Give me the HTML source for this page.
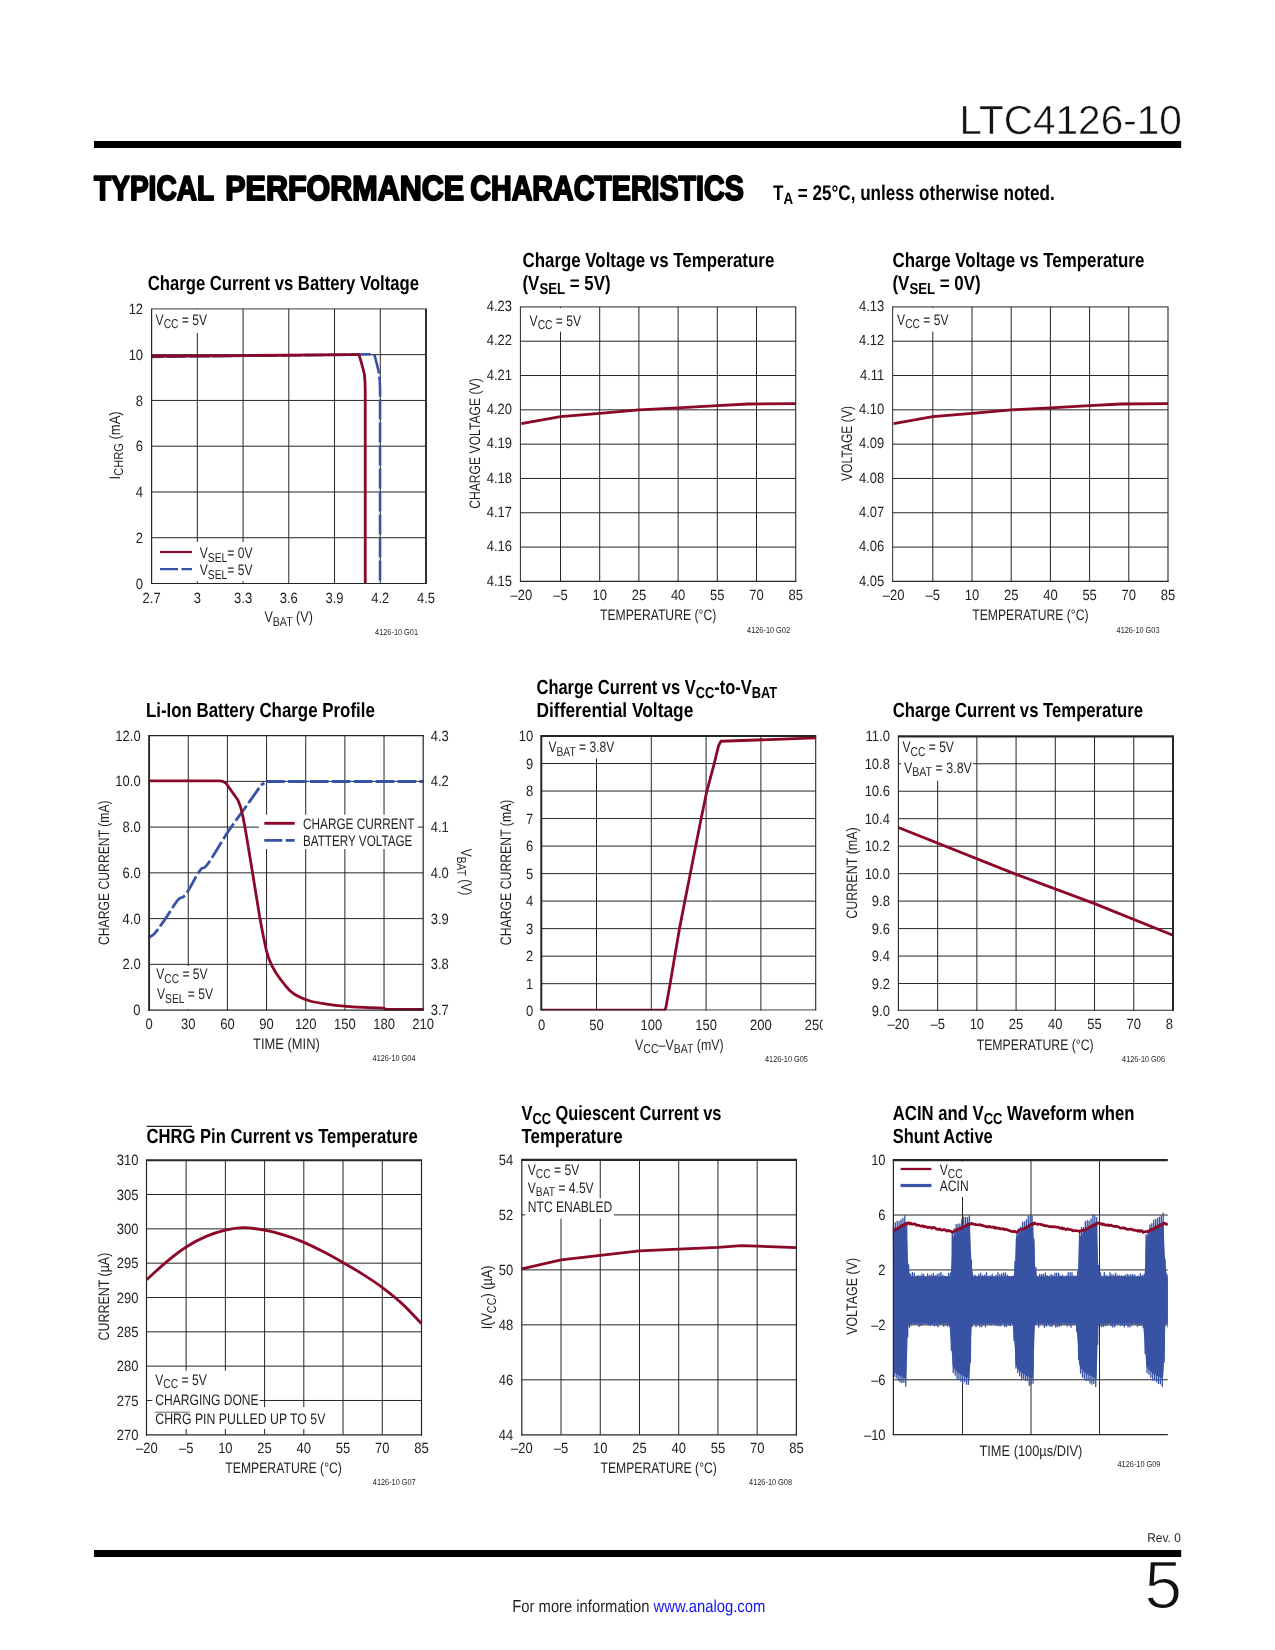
<!DOCTYPE html>
<html lang="en"><head><meta charset="utf-8"><title>LTC4126-10 Typical Performance Characteristics</title>
<style>
html,body{margin:0;padding:0;background:#fff}
body{width:1275px;height:1650px;overflow:hidden}
svg{display:block;font-family:"Liberation Sans",Arial,Helvetica,sans-serif;fill:#231f20;will-change:transform;text-rendering:geometricPrecision}
</style></head><body>
<svg width="1275" height="1650" viewBox="0 0 1275 1650">
<text transform="translate(1181.8,133.5) scale(0.999,1)" font-size="40.6" text-anchor="end" fill="#111" stroke="#fff" stroke-width="0.55">LTC4126-10</text>
<rect x="94" y="141" width="1087.2" height="7" fill="#000"/>
<text transform="translate(94,199.6) scale(0.812,1)" font-size="34.6" font-weight="bold" fill="#000" stroke="#000" stroke-width="2" stroke-linejoin="round">TYPICAL</text>
<text transform="translate(225.2,199.6) scale(0.8822,1)" font-size="34.6" font-weight="bold" fill="#000" stroke="#000" stroke-width="2" stroke-linejoin="round">PERFORMANCE</text>
<text transform="translate(470.3,199.6) scale(0.8277,1)" font-size="34.6" font-weight="bold" fill="#000" stroke="#000" stroke-width="2" stroke-linejoin="round">CHARACTERISTICS</text>
<text transform="translate(773,199.8) scale(0.806,1)" font-size="21.2" font-weight="bold" fill="#000">T<tspan font-size="16.54" dy="4.24">A</tspan><tspan dy="-4.24"> = 25°C, unless otherwise noted.</tspan></text>
<text transform="translate(1180.9,1542.1) scale(0.95,1)" font-size="12.6" text-anchor="end">Rev. 0</text>
<rect x="94" y="1550" width="1087.2" height="7" fill="#000"/>
<text transform="translate(1182.2,1608.2)" font-size="67.6" text-anchor="end" fill="#111" stroke="#fff" stroke-width="1.4">5</text>
<text transform="translate(512.3,1611.7) scale(0.855,1)" font-size="17.3">For more information <tspan fill="#1414ee">www.analog.com</tspan></text>
<line x1="197.33" y1="308.9" x2="197.33" y2="583.5" stroke="#262626" stroke-width="1"/>
<line x1="243.07" y1="308.9" x2="243.07" y2="583.5" stroke="#262626" stroke-width="1"/>
<line x1="288.8" y1="308.9" x2="288.8" y2="583.5" stroke="#262626" stroke-width="1"/>
<line x1="334.53" y1="308.9" x2="334.53" y2="583.5" stroke="#262626" stroke-width="1"/>
<line x1="380.27" y1="308.9" x2="380.27" y2="583.5" stroke="#262626" stroke-width="1"/>
<line x1="151.6" y1="354.67" x2="426" y2="354.67" stroke="#262626" stroke-width="1"/>
<line x1="151.6" y1="400.43" x2="426" y2="400.43" stroke="#262626" stroke-width="1"/>
<line x1="151.6" y1="446.2" x2="426" y2="446.2" stroke="#262626" stroke-width="1"/>
<line x1="151.6" y1="491.97" x2="426" y2="491.97" stroke="#262626" stroke-width="1"/>
<line x1="151.6" y1="537.73" x2="426" y2="537.73" stroke="#262626" stroke-width="1"/>
<rect x="153" y="309.5" width="57" height="23.5" fill="#fff"/>
<rect x="157" y="542" width="100" height="39.3" fill="#fff"/>
<path d="M151.6 356.95 L243.07 355.81 L349.78 354.67 L372.64 354.21 L374.78 355.81 L378.59 371.14 L379.66 379.84 L380.05 388.99 L380.05 583.5" fill="none" stroke="#3953a4" stroke-width="2.6" stroke-linejoin="round" stroke-dasharray="20 3" stroke-dashoffset="8"/>
<path d="M151.6 356.27 L243.07 355.58 L349.78 354.67 L358.92 354.67 L361.67 363.59 L364.41 374.35 L365.02 382.13 L365.24 391.28 L365.24 583.5" fill="none" stroke="#8b0828" stroke-width="2.8" stroke-linejoin="round"/>
<line x1="151" y1="308.9" x2="426.95" y2="308.9" stroke="#262626" stroke-width="0.9"/>
<line x1="151" y1="583.5" x2="426.95" y2="583.5" stroke="#262626" stroke-width="1.2"/>
<line x1="151.6" y1="308.9" x2="151.6" y2="584.1" stroke="#262626" stroke-width="1.2"/>
<line x1="426" y1="308.9" x2="426" y2="584.1" stroke="#262626" stroke-width="1.9"/>
<text transform="translate(151.6,602.8) scale(0.872,1)" font-size="14.9" text-anchor="middle">2.7</text>
<text transform="translate(197.33,602.8) scale(0.872,1)" font-size="14.9" text-anchor="middle">3</text>
<text transform="translate(243.07,602.8) scale(0.872,1)" font-size="14.9" text-anchor="middle">3.3</text>
<text transform="translate(288.8,602.8) scale(0.872,1)" font-size="14.9" text-anchor="middle">3.6</text>
<text transform="translate(334.53,602.8) scale(0.872,1)" font-size="14.9" text-anchor="middle">3.9</text>
<text transform="translate(380.27,602.8) scale(0.872,1)" font-size="14.9" text-anchor="middle">4.2</text>
<text transform="translate(426,602.8) scale(0.872,1)" font-size="14.9" text-anchor="middle">4.5</text>
<text transform="translate(143.1,588.6) scale(0.872,1)" font-size="14.9" text-anchor="end">0</text>
<text transform="translate(143.1,542.83) scale(0.872,1)" font-size="14.9" text-anchor="end">2</text>
<text transform="translate(143.1,497.07) scale(0.872,1)" font-size="14.9" text-anchor="end">4</text>
<text transform="translate(143.1,451.3) scale(0.872,1)" font-size="14.9" text-anchor="end">6</text>
<text transform="translate(143.1,405.53) scale(0.872,1)" font-size="14.9" text-anchor="end">8</text>
<text transform="translate(143.1,359.77) scale(0.872,1)" font-size="14.9" text-anchor="end">10</text>
<text transform="translate(143.1,314) scale(0.872,1)" font-size="14.9" text-anchor="end">12</text>
<text transform="translate(147.7,289.8) scale(0.8181,1)" font-size="20.4" font-weight="bold" fill="#000">Charge Current vs Battery Voltage</text>
<text transform="translate(155.6,324.6) scale(0.795,1)" font-size="15.2">V<tspan font-size="12.92" dy="3.5">CC</tspan><tspan dy="-3.5"> = 5V</tspan></text>
<line x1="160" y1="552" x2="192" y2="552" stroke="#8b0828" stroke-width="2.2"/>
<text transform="translate(199.8,558) scale(0.795,1)" font-size="15.2">V<tspan font-size="12.92" dy="3.5">SEL</tspan><tspan dy="-3.5">= 0V</tspan></text>
<line x1="160" y1="569.2" x2="192" y2="569.2" stroke="#3953a4" stroke-width="2.2" stroke-dasharray="18 3.5"/>
<text transform="translate(199.8,575) scale(0.795,1)" font-size="15.2">V<tspan font-size="12.92" dy="3.5">SEL</tspan><tspan dy="-3.5">= 5V</tspan></text>
<text transform="translate(119.5,445.4) rotate(-90) scale(0.8586,1)" font-size="15.2" text-anchor="middle">I<tspan font-size="12.92" dy="3.5">CHRG</tspan><tspan dy="-3.5"> (mA)</tspan></text>
<text transform="translate(288.6,622) scale(0.8244,1)" font-size="15.2" text-anchor="middle">V<tspan font-size="12.92" dy="3.5">BAT</tspan><tspan dy="-3.5"> (V)</tspan></text>
<text transform="translate(418,634.6) scale(0.855,1)" font-size="8.6" text-anchor="end">4126-10 G01</text>
<line x1="560.5" y1="306.9" x2="560.5" y2="581.4" stroke="#262626" stroke-width="1"/>
<line x1="599.7" y1="306.9" x2="599.7" y2="581.4" stroke="#262626" stroke-width="1"/>
<line x1="638.9" y1="306.9" x2="638.9" y2="581.4" stroke="#262626" stroke-width="1"/>
<line x1="678.1" y1="306.9" x2="678.1" y2="581.4" stroke="#262626" stroke-width="1"/>
<line x1="717.3" y1="306.9" x2="717.3" y2="581.4" stroke="#262626" stroke-width="1"/>
<line x1="756.5" y1="306.9" x2="756.5" y2="581.4" stroke="#262626" stroke-width="1"/>
<line x1="520.4" y1="341.21" x2="795.7" y2="341.21" stroke="#262626" stroke-width="1"/>
<line x1="520.4" y1="375.52" x2="795.7" y2="375.52" stroke="#262626" stroke-width="1"/>
<line x1="520.4" y1="409.84" x2="795.7" y2="409.84" stroke="#262626" stroke-width="1"/>
<line x1="520.4" y1="444.15" x2="795.7" y2="444.15" stroke="#262626" stroke-width="1"/>
<line x1="520.4" y1="478.46" x2="795.7" y2="478.46" stroke="#262626" stroke-width="1"/>
<line x1="520.4" y1="512.77" x2="795.7" y2="512.77" stroke="#262626" stroke-width="1"/>
<line x1="520.4" y1="547.09" x2="795.7" y2="547.09" stroke="#262626" stroke-width="1"/>
<rect x="522.3" y="308.1" width="64" height="23.6" fill="#fff"/>
<path d="M521.3 423.56 L560.5 416.7 L599.7 413.27 L638.9 409.84 L678.1 407.78 L717.3 405.72 L748.66 404 L795.7 403.66" fill="none" stroke="#8b0828" stroke-width="2.8" stroke-linejoin="round"/>
<line x1="519.9" y1="306.9" x2="796.25" y2="306.9" stroke="#262626" stroke-width="1"/>
<line x1="519.9" y1="581.4" x2="796.25" y2="581.4" stroke="#262626" stroke-width="1.1"/>
<line x1="520.4" y1="306.9" x2="520.4" y2="581.95" stroke="#262626" stroke-width="1"/>
<line x1="795.7" y1="306.9" x2="795.7" y2="581.95" stroke="#262626" stroke-width="1.1"/>
<text transform="translate(521.3,599.8) scale(0.872,1)" font-size="14.9" text-anchor="middle">–20</text>
<text transform="translate(560.5,599.8) scale(0.872,1)" font-size="14.9" text-anchor="middle">–5</text>
<text transform="translate(599.7,599.8) scale(0.872,1)" font-size="14.9" text-anchor="middle">10</text>
<text transform="translate(638.9,599.8) scale(0.872,1)" font-size="14.9" text-anchor="middle">25</text>
<text transform="translate(678.1,599.8) scale(0.872,1)" font-size="14.9" text-anchor="middle">40</text>
<text transform="translate(717.3,599.8) scale(0.872,1)" font-size="14.9" text-anchor="middle">55</text>
<text transform="translate(756.5,599.8) scale(0.872,1)" font-size="14.9" text-anchor="middle">70</text>
<text transform="translate(795.7,599.8) scale(0.872,1)" font-size="14.9" text-anchor="middle">85</text>
<text transform="translate(512,585.6) scale(0.872,1)" font-size="14.9" text-anchor="end">4.15</text>
<text transform="translate(512,551.29) scale(0.872,1)" font-size="14.9" text-anchor="end">4.16</text>
<text transform="translate(512,516.98) scale(0.872,1)" font-size="14.9" text-anchor="end">4.17</text>
<text transform="translate(512,482.66) scale(0.872,1)" font-size="14.9" text-anchor="end">4.18</text>
<text transform="translate(512,448.35) scale(0.872,1)" font-size="14.9" text-anchor="end">4.19</text>
<text transform="translate(512,414.04) scale(0.872,1)" font-size="14.9" text-anchor="end">4.20</text>
<text transform="translate(512,379.72) scale(0.872,1)" font-size="14.9" text-anchor="end">4.21</text>
<text transform="translate(512,345.41) scale(0.872,1)" font-size="14.9" text-anchor="end">4.22</text>
<text transform="translate(512,311.1) scale(0.872,1)" font-size="14.9" text-anchor="end">4.23</text>
<text transform="translate(522.5,266.5) scale(0.828,1)" font-size="20.4" font-weight="bold" fill="#000">Charge Voltage vs Temperature</text>
<text transform="translate(522.5,290) scale(0.828,1)" font-size="20.4" font-weight="bold" fill="#000">(V<tspan font-size="15.91" dy="4.08">SEL</tspan><tspan dy="-4.08"> = 5V)</tspan></text>
<text transform="translate(529.6,325.8) scale(0.795,1)" font-size="15.2">V<tspan font-size="12.92" dy="3.5">CC</tspan><tspan dy="-3.5"> = 5V</tspan></text>
<text transform="translate(479.5,443.55) rotate(-90) scale(0.7998,1)" font-size="15.2" text-anchor="middle">CHARGE VOLTAGE (V)</text>
<text transform="translate(658.1,620) scale(0.8022,1)" font-size="15.2" text-anchor="middle">TEMPERATURE (°C)</text>
<text transform="translate(790,633) scale(0.855,1)" font-size="8.6" text-anchor="end">4126-10 G02</text>
<line x1="932.8" y1="306.9" x2="932.8" y2="581.4" stroke="#262626" stroke-width="1"/>
<line x1="972" y1="306.9" x2="972" y2="581.4" stroke="#262626" stroke-width="1"/>
<line x1="1011.2" y1="306.9" x2="1011.2" y2="581.4" stroke="#262626" stroke-width="1"/>
<line x1="1050.4" y1="306.9" x2="1050.4" y2="581.4" stroke="#262626" stroke-width="1"/>
<line x1="1089.6" y1="306.9" x2="1089.6" y2="581.4" stroke="#262626" stroke-width="1"/>
<line x1="1128.8" y1="306.9" x2="1128.8" y2="581.4" stroke="#262626" stroke-width="1"/>
<line x1="892.7" y1="341.21" x2="1168" y2="341.21" stroke="#262626" stroke-width="1"/>
<line x1="892.7" y1="375.52" x2="1168" y2="375.52" stroke="#262626" stroke-width="1"/>
<line x1="892.7" y1="409.84" x2="1168" y2="409.84" stroke="#262626" stroke-width="1"/>
<line x1="892.7" y1="444.15" x2="1168" y2="444.15" stroke="#262626" stroke-width="1"/>
<line x1="892.7" y1="478.46" x2="1168" y2="478.46" stroke="#262626" stroke-width="1"/>
<line x1="892.7" y1="512.77" x2="1168" y2="512.77" stroke="#262626" stroke-width="1"/>
<line x1="892.7" y1="547.09" x2="1168" y2="547.09" stroke="#262626" stroke-width="1"/>
<rect x="894.6" y="308.1" width="64" height="23.6" fill="#fff"/>
<path d="M893.6 423.56 L932.8 416.7 L972 413.27 L1011.2 409.84 L1050.4 407.78 L1089.6 405.72 L1120.96 404 L1168 403.66" fill="none" stroke="#8b0828" stroke-width="2.8" stroke-linejoin="round"/>
<line x1="892.2" y1="306.9" x2="1168.55" y2="306.9" stroke="#262626" stroke-width="1"/>
<line x1="892.2" y1="581.4" x2="1168.55" y2="581.4" stroke="#262626" stroke-width="1.1"/>
<line x1="892.7" y1="306.9" x2="892.7" y2="581.95" stroke="#262626" stroke-width="1"/>
<line x1="1168" y1="306.9" x2="1168" y2="581.95" stroke="#262626" stroke-width="1.1"/>
<text transform="translate(893.6,599.8) scale(0.872,1)" font-size="14.9" text-anchor="middle">–20</text>
<text transform="translate(932.8,599.8) scale(0.872,1)" font-size="14.9" text-anchor="middle">–5</text>
<text transform="translate(972,599.8) scale(0.872,1)" font-size="14.9" text-anchor="middle">10</text>
<text transform="translate(1011.2,599.8) scale(0.872,1)" font-size="14.9" text-anchor="middle">25</text>
<text transform="translate(1050.4,599.8) scale(0.872,1)" font-size="14.9" text-anchor="middle">40</text>
<text transform="translate(1089.6,599.8) scale(0.872,1)" font-size="14.9" text-anchor="middle">55</text>
<text transform="translate(1128.8,599.8) scale(0.872,1)" font-size="14.9" text-anchor="middle">70</text>
<text transform="translate(1168,599.8) scale(0.872,1)" font-size="14.9" text-anchor="middle">85</text>
<text transform="translate(884.3,585.6) scale(0.872,1)" font-size="14.9" text-anchor="end">4.05</text>
<text transform="translate(884.3,551.29) scale(0.872,1)" font-size="14.9" text-anchor="end">4.06</text>
<text transform="translate(884.3,516.98) scale(0.872,1)" font-size="14.9" text-anchor="end">4.07</text>
<text transform="translate(884.3,482.66) scale(0.872,1)" font-size="14.9" text-anchor="end">4.08</text>
<text transform="translate(884.3,448.35) scale(0.872,1)" font-size="14.9" text-anchor="end">4.09</text>
<text transform="translate(884.3,414.04) scale(0.872,1)" font-size="14.9" text-anchor="end">4.10</text>
<text transform="translate(884.3,379.72) scale(0.872,1)" font-size="14.9" text-anchor="end">4.11</text>
<text transform="translate(884.3,345.41) scale(0.872,1)" font-size="14.9" text-anchor="end">4.12</text>
<text transform="translate(884.3,311.1) scale(0.872,1)" font-size="14.9" text-anchor="end">4.13</text>
<text transform="translate(892.5,266.5) scale(0.828,1)" font-size="20.4" font-weight="bold" fill="#000">Charge Voltage vs Temperature</text>
<text transform="translate(892.5,290) scale(0.828,1)" font-size="20.4" font-weight="bold" fill="#000">(V<tspan font-size="15.91" dy="4.08">SEL</tspan><tspan dy="-4.08"> = 0V)</tspan></text>
<text transform="translate(897.1,324.6) scale(0.795,1)" font-size="15.2">V<tspan font-size="12.92" dy="3.5">CC</tspan><tspan dy="-3.5"> = 5V</tspan></text>
<text transform="translate(852,443.55) rotate(-90) scale(0.7998,1)" font-size="15.2" text-anchor="middle">VOLTAGE (V)</text>
<text transform="translate(1030.4,620) scale(0.8022,1)" font-size="15.2" text-anchor="middle">TEMPERATURE (°C)</text>
<text transform="translate(1159.5,633) scale(0.855,1)" font-size="8.6" text-anchor="end">4126-10 G03</text>
<line x1="188.26" y1="735.6" x2="188.26" y2="1010.1" stroke="#262626" stroke-width="1"/>
<line x1="227.41" y1="735.6" x2="227.41" y2="1010.1" stroke="#262626" stroke-width="1"/>
<line x1="266.57" y1="735.6" x2="266.57" y2="1010.1" stroke="#262626" stroke-width="1"/>
<line x1="305.73" y1="735.6" x2="305.73" y2="1010.1" stroke="#262626" stroke-width="1"/>
<line x1="344.89" y1="735.6" x2="344.89" y2="1010.1" stroke="#262626" stroke-width="1"/>
<line x1="384.04" y1="735.6" x2="384.04" y2="1010.1" stroke="#262626" stroke-width="1"/>
<line x1="149.1" y1="781.35" x2="423.2" y2="781.35" stroke="#262626" stroke-width="1"/>
<line x1="149.1" y1="827.1" x2="423.2" y2="827.1" stroke="#262626" stroke-width="1"/>
<line x1="149.1" y1="872.85" x2="423.2" y2="872.85" stroke="#262626" stroke-width="1"/>
<line x1="149.1" y1="918.6" x2="423.2" y2="918.6" stroke="#262626" stroke-width="1"/>
<line x1="149.1" y1="964.35" x2="423.2" y2="964.35" stroke="#262626" stroke-width="1"/>
<rect x="258.9" y="814.7" width="158.8" height="34.3" fill="#fff"/>
<rect x="150.2" y="966" width="68" height="43" fill="#fff"/>
<path d="M149.1 937.5 C150.26 936.62 151.8 936.62 154.9 933.1 C158 929.58 160.02 926.48 164.6 919.9 C169.18 913.32 173.58 905.3 177.8 900.2 C182.02 895.1 181.3 900.3 185.7 894.4 C190.1 888.5 195.4 876.78 199.8 870.7 C204.2 864.62 202.08 871.74 207.7 864 C213.32 856.26 220.44 843.2 227.9 832 C235.36 820.8 238.68 816.9 245 808 C251.32 799.1 256.1 792.18 259.5 787.5 C262.9 782.82 261.04 785.52 262 784.6 C262.96 783.68 263.84 783.24 264.3 782.9" fill="none" stroke="#3953a4" stroke-width="2.8" stroke-linejoin="round" stroke-dasharray="18.5 3.4" stroke-dashoffset="6"/>
<path d="M266.2 781.5H423.2" fill="none" stroke="#3953a4" stroke-width="2.8" stroke-linejoin="round" stroke-dasharray="18.5 3.4"/>
<path d="M149.1 780.8 L219.3 780.8 L222.8 781.4 L226 783.2 L237.9 800 L240.6 807 L242.9 816.5 L245.5 830.2 L252.5 872.4 L259.6 916.4 L263 934.5 L266.2 949.8 C268 957 269.5 961 271.9 965.6 C274.5 971 277.5 975.5 280.7 979.7 C283.5 983.5 286.5 987.2 290 990.8 C293 993.6 296.3 995.7 300 997.3 C303.2 998.9 306.5 1000 310 1001 C314.8 1002.3 319.5 1003 324.7 1003.8 C332 1004.9 339.3 1005.7 346.7 1006.3 C352.8 1006.8 358.9 1007.2 365 1007.4 C371.3 1007.7 377.5 1007.9 383.8 1008.1 L385.9 1009.3 L423.2 1009.3" fill="none" stroke="#8b0828" stroke-width="2.8" stroke-linejoin="round"/>
<line x1="148.15" y1="735.6" x2="423.8" y2="735.6" stroke="#262626" stroke-width="1.2"/>
<line x1="148.15" y1="1010.1" x2="423.8" y2="1010.1" stroke="#262626" stroke-width="1.2"/>
<line x1="149.1" y1="735.6" x2="149.1" y2="1010.7" stroke="#262626" stroke-width="1.9"/>
<line x1="423.2" y1="735.6" x2="423.2" y2="1010.7" stroke="#262626" stroke-width="1.2"/>
<text transform="translate(149.1,1028.5) scale(0.872,1)" font-size="14.9" text-anchor="middle">0</text>
<text transform="translate(188.26,1028.5) scale(0.872,1)" font-size="14.9" text-anchor="middle">30</text>
<text transform="translate(227.41,1028.5) scale(0.872,1)" font-size="14.9" text-anchor="middle">60</text>
<text transform="translate(266.57,1028.5) scale(0.872,1)" font-size="14.9" text-anchor="middle">90</text>
<text transform="translate(305.73,1028.5) scale(0.872,1)" font-size="14.9" text-anchor="middle">120</text>
<text transform="translate(344.89,1028.5) scale(0.872,1)" font-size="14.9" text-anchor="middle">150</text>
<text transform="translate(384.04,1028.5) scale(0.872,1)" font-size="14.9" text-anchor="middle">180</text>
<text transform="translate(423.2,1028.5) scale(0.872,1)" font-size="14.9" text-anchor="middle">210</text>
<text transform="translate(140.6,1015.2) scale(0.872,1)" font-size="14.9" text-anchor="end">0</text>
<text transform="translate(140.6,969.45) scale(0.872,1)" font-size="14.9" text-anchor="end">2.0</text>
<text transform="translate(140.6,923.7) scale(0.872,1)" font-size="14.9" text-anchor="end">4.0</text>
<text transform="translate(140.6,877.95) scale(0.872,1)" font-size="14.9" text-anchor="end">6.0</text>
<text transform="translate(140.6,832.2) scale(0.872,1)" font-size="14.9" text-anchor="end">8.0</text>
<text transform="translate(140.6,786.45) scale(0.872,1)" font-size="14.9" text-anchor="end">10.0</text>
<text transform="translate(140.6,740.7) scale(0.872,1)" font-size="14.9" text-anchor="end">12.0</text>
<text transform="translate(430.7,1015.2) scale(0.872,1)" font-size="14.9">3.7</text>
<text transform="translate(430.7,969.45) scale(0.872,1)" font-size="14.9">3.8</text>
<text transform="translate(430.7,923.7) scale(0.872,1)" font-size="14.9">3.9</text>
<text transform="translate(430.7,877.95) scale(0.872,1)" font-size="14.9">4.0</text>
<text transform="translate(430.7,832.2) scale(0.872,1)" font-size="14.9">4.1</text>
<text transform="translate(430.7,786.45) scale(0.872,1)" font-size="14.9">4.2</text>
<text transform="translate(430.7,740.7) scale(0.872,1)" font-size="14.9">4.3</text>
<text transform="translate(145.9,717) scale(0.828,1)" font-size="20.4" font-weight="bold" fill="#000">Li-Ion Battery Charge Profile</text>
<text transform="translate(156.2,979.3) scale(0.795,1)" font-size="15.2">V<tspan font-size="12.92" dy="3.5">CC</tspan><tspan dy="-3.5"> = 5V</tspan></text>
<text transform="translate(157,999) scale(0.795,1)" font-size="15.2">V<tspan font-size="12.92" dy="3.5">SEL</tspan><tspan dy="-3.5"> = 5V</tspan></text>
<line x1="264.3" y1="823.3" x2="294.7" y2="823.3" stroke="#8b0828" stroke-width="2.9"/>
<text transform="translate(303,828.5) scale(0.7767,1)" font-size="15.2">CHARGE CURRENT</text>
<line x1="264.3" y1="840.4" x2="294.7" y2="840.4" stroke="#3953a4" stroke-width="2.8" stroke-dasharray="18 3.4"/>
<text transform="translate(303,845.5) scale(0.7696,1)" font-size="15.2">BATTERY VOLTAGE</text>
<text transform="translate(108.8,872.7) rotate(-90) scale(0.803,1)" font-size="15.2" text-anchor="middle">CHARGE CURRENT (mA)</text>
<text transform="translate(460.8,872) rotate(90) scale(0.795,1)" font-size="15.2" text-anchor="middle">V<tspan font-size="12.92" dy="3.5">BAT</tspan><tspan dy="-3.5"> (V)</tspan></text>
<text transform="translate(286.4,1048.6) scale(0.8507,1)" font-size="15.2" text-anchor="middle">TIME (MIN)</text>
<text transform="translate(415.5,1060.5) scale(0.855,1)" font-size="8.6" text-anchor="end">4126-10 G04</text>
<clipPath id="k5b"><rect x="530" y="730" width="300" height="280.6"/></clipPath><g clip-path="url(#k5b)">
<line x1="596.5" y1="736" x2="596.5" y2="1011.2" stroke="#262626" stroke-width="1"/>
<line x1="651.3" y1="736" x2="651.3" y2="1011.2" stroke="#262626" stroke-width="1"/>
<line x1="706.1" y1="736" x2="706.1" y2="1011.2" stroke="#262626" stroke-width="1"/>
<line x1="760.9" y1="736" x2="760.9" y2="1011.2" stroke="#262626" stroke-width="1"/>
<line x1="541.7" y1="763.52" x2="815.7" y2="763.52" stroke="#262626" stroke-width="1"/>
<line x1="541.7" y1="791.04" x2="815.7" y2="791.04" stroke="#262626" stroke-width="1"/>
<line x1="541.7" y1="818.56" x2="815.7" y2="818.56" stroke="#262626" stroke-width="1"/>
<line x1="541.7" y1="846.08" x2="815.7" y2="846.08" stroke="#262626" stroke-width="1"/>
<line x1="541.7" y1="873.6" x2="815.7" y2="873.6" stroke="#262626" stroke-width="1"/>
<line x1="541.7" y1="901.12" x2="815.7" y2="901.12" stroke="#262626" stroke-width="1"/>
<line x1="541.7" y1="928.64" x2="815.7" y2="928.64" stroke="#262626" stroke-width="1"/>
<line x1="541.7" y1="956.16" x2="815.7" y2="956.16" stroke="#262626" stroke-width="1"/>
<line x1="541.7" y1="983.68" x2="815.7" y2="983.68" stroke="#262626" stroke-width="1"/>
<rect x="542.5" y="737.3" width="77" height="21" fill="#fff"/>
<path d="M541.7 1010.1 L664.56 1010.1 L665.77 1007.9 L670.15 983.68 L674.75 956.16 L679.47 928.64 L684.84 901.12 L690.32 873.6 L695.69 846.08 L701.17 818.56 L706.87 791.04 L714.21 763.52 L718.59 745.63 L720.9 741.23 L815.7 737.93" fill="none" stroke="#8b0828" stroke-width="2.8" stroke-linejoin="round"/>
<line x1="540.3" y1="736" x2="816.25" y2="736" stroke="#262626" stroke-width="2"/>
<line x1="540.3" y1="1010.1" x2="816.25" y2="1010.1" stroke="#262626" stroke-width="1.1"/>
<line x1="541.3" y1="736" x2="541.3" y2="1010.65" stroke="#262626" stroke-width="2"/>
<line x1="815.7" y1="736" x2="815.7" y2="1010.65" stroke="#262626" stroke-width="1.1"/>
</g>
<clipPath id="k5"><rect x="500" y="1012" width="322.6" height="30"/></clipPath><g clip-path="url(#k5)">
<text transform="translate(541.7,1029.6) scale(0.872,1)" font-size="14.9" text-anchor="middle">0</text>
<text transform="translate(596.5,1029.6) scale(0.872,1)" font-size="14.9" text-anchor="middle">50</text>
<text transform="translate(651.3,1029.6) scale(0.872,1)" font-size="14.9" text-anchor="middle">100</text>
<text transform="translate(706.1,1029.6) scale(0.872,1)" font-size="14.9" text-anchor="middle">150</text>
<text transform="translate(760.9,1029.6) scale(0.872,1)" font-size="14.9" text-anchor="middle">200</text>
<text transform="translate(815.7,1029.6) scale(0.872,1)" font-size="14.9" text-anchor="middle">250</text>
</g>
<text transform="translate(533.2,1016.3) scale(0.872,1)" font-size="14.9" text-anchor="end">0</text>
<text transform="translate(533.2,988.78) scale(0.872,1)" font-size="14.9" text-anchor="end">1</text>
<text transform="translate(533.2,961.26) scale(0.872,1)" font-size="14.9" text-anchor="end">2</text>
<text transform="translate(533.2,933.74) scale(0.872,1)" font-size="14.9" text-anchor="end">3</text>
<text transform="translate(533.2,906.22) scale(0.872,1)" font-size="14.9" text-anchor="end">4</text>
<text transform="translate(533.2,878.7) scale(0.872,1)" font-size="14.9" text-anchor="end">5</text>
<text transform="translate(533.2,851.18) scale(0.872,1)" font-size="14.9" text-anchor="end">6</text>
<text transform="translate(533.2,823.66) scale(0.872,1)" font-size="14.9" text-anchor="end">7</text>
<text transform="translate(533.2,796.14) scale(0.872,1)" font-size="14.9" text-anchor="end">8</text>
<text transform="translate(533.2,768.62) scale(0.872,1)" font-size="14.9" text-anchor="end">9</text>
<text transform="translate(533.2,741.1) scale(0.872,1)" font-size="14.9" text-anchor="end">10</text>
<text transform="translate(536.5,693.6) scale(0.8073,1)" font-size="20.4" font-weight="bold" fill="#000">Charge Current vs V<tspan font-size="15.91" dy="4.08">CC</tspan><tspan dy="-4.08">-to-V</tspan><tspan font-size="15.91" dy="4.08">BAT</tspan></text>
<text transform="translate(536.5,717) scale(0.8512,1)" font-size="20.4" font-weight="bold" fill="#000">Differential Voltage</text>
<text transform="translate(548.4,752) scale(0.795,1)" font-size="15.2">V<tspan font-size="12.92" dy="3.5">BAT</tspan><tspan dy="-3.5"> = 3.8V</tspan></text>
<text transform="translate(510.8,872.4) rotate(-90) scale(0.8077,1)" font-size="15.2" text-anchor="middle">CHARGE CURRENT (mA)</text>
<text transform="translate(679.4,1049.6) scale(0.8157,1)" font-size="15.2" text-anchor="middle">V<tspan font-size="12.92" dy="3.5">CC</tspan><tspan dy="-3.5">–V</tspan><tspan font-size="12.92" dy="3.5">BAT</tspan><tspan dy="-3.5"> (mV)</tspan></text>
<text transform="translate(807.9,1061.5) scale(0.855,1)" font-size="8.6" text-anchor="end">4126-10 G05</text>
<line x1="937.63" y1="736.3" x2="937.63" y2="1011" stroke="#262626" stroke-width="1"/>
<line x1="976.86" y1="736.3" x2="976.86" y2="1011" stroke="#262626" stroke-width="1"/>
<line x1="1016.09" y1="736.3" x2="1016.09" y2="1011" stroke="#262626" stroke-width="1"/>
<line x1="1055.31" y1="736.3" x2="1055.31" y2="1011" stroke="#262626" stroke-width="1"/>
<line x1="1094.54" y1="736.3" x2="1094.54" y2="1011" stroke="#262626" stroke-width="1"/>
<line x1="1133.77" y1="736.3" x2="1133.77" y2="1011" stroke="#262626" stroke-width="1"/>
<line x1="898.4" y1="763.77" x2="1173" y2="763.77" stroke="#262626" stroke-width="1"/>
<line x1="898.4" y1="791.24" x2="1173" y2="791.24" stroke="#262626" stroke-width="1"/>
<line x1="898.4" y1="818.71" x2="1173" y2="818.71" stroke="#262626" stroke-width="1"/>
<line x1="898.4" y1="846.18" x2="1173" y2="846.18" stroke="#262626" stroke-width="1"/>
<line x1="898.4" y1="873.65" x2="1173" y2="873.65" stroke="#262626" stroke-width="1"/>
<line x1="898.4" y1="901.12" x2="1173" y2="901.12" stroke="#262626" stroke-width="1"/>
<line x1="898.4" y1="928.59" x2="1173" y2="928.59" stroke="#262626" stroke-width="1"/>
<line x1="898.4" y1="956.06" x2="1173" y2="956.06" stroke="#262626" stroke-width="1"/>
<line x1="898.4" y1="983.53" x2="1173" y2="983.53" stroke="#262626" stroke-width="1"/>
<rect x="901" y="737.2" width="72" height="43.5" fill="#fff"/>
<path d="M898.4 827.5 L1016.09 874.34 L1094.54 903.59 L1173 935.32" fill="none" stroke="#8b0828" stroke-width="2.8" stroke-linejoin="round"/>
<line x1="897.85" y1="736.3" x2="1174" y2="736.3" stroke="#262626" stroke-width="2.3"/>
<line x1="897.85" y1="1010.2" x2="1174" y2="1010.2" stroke="#262626" stroke-width="1.1"/>
<line x1="898.4" y1="736.3" x2="898.4" y2="1010.75" stroke="#262626" stroke-width="1.1"/>
<line x1="1173" y1="736.3" x2="1173" y2="1010.75" stroke="#262626" stroke-width="2"/>
<clipPath id="k6"><rect x="850" y="1012" width="323.2" height="30"/></clipPath><g clip-path="url(#k6)">
<text transform="translate(898.4,1029.4) scale(0.872,1)" font-size="14.9" text-anchor="middle">–20</text>
<text transform="translate(937.63,1029.4) scale(0.872,1)" font-size="14.9" text-anchor="middle">–5</text>
<text transform="translate(976.86,1029.4) scale(0.872,1)" font-size="14.9" text-anchor="middle">10</text>
<text transform="translate(1016.09,1029.4) scale(0.872,1)" font-size="14.9" text-anchor="middle">25</text>
<text transform="translate(1055.31,1029.4) scale(0.872,1)" font-size="14.9" text-anchor="middle">40</text>
<text transform="translate(1094.54,1029.4) scale(0.872,1)" font-size="14.9" text-anchor="middle">55</text>
<text transform="translate(1133.77,1029.4) scale(0.872,1)" font-size="14.9" text-anchor="middle">70</text>
<text transform="translate(1173,1029.4) scale(0.872,1)" font-size="14.9" text-anchor="middle">85</text>
</g>
<text transform="translate(889.9,1016.1) scale(0.872,1)" font-size="14.9" text-anchor="end">9.0</text>
<text transform="translate(889.9,988.63) scale(0.872,1)" font-size="14.9" text-anchor="end">9.2</text>
<text transform="translate(889.9,961.16) scale(0.872,1)" font-size="14.9" text-anchor="end">9.4</text>
<text transform="translate(889.9,933.69) scale(0.872,1)" font-size="14.9" text-anchor="end">9.6</text>
<text transform="translate(889.9,906.22) scale(0.872,1)" font-size="14.9" text-anchor="end">9.8</text>
<text transform="translate(889.9,878.75) scale(0.872,1)" font-size="14.9" text-anchor="end">10.0</text>
<text transform="translate(889.9,851.28) scale(0.872,1)" font-size="14.9" text-anchor="end">10.2</text>
<text transform="translate(889.9,823.81) scale(0.872,1)" font-size="14.9" text-anchor="end">10.4</text>
<text transform="translate(889.9,796.34) scale(0.872,1)" font-size="14.9" text-anchor="end">10.6</text>
<text transform="translate(889.9,768.87) scale(0.872,1)" font-size="14.9" text-anchor="end">10.8</text>
<text transform="translate(889.9,741.4) scale(0.872,1)" font-size="14.9" text-anchor="end">11.0</text>
<text transform="translate(892.8,717) scale(0.8185,1)" font-size="20.4" font-weight="bold" fill="#000">Charge Current vs Temperature</text>
<text transform="translate(902.5,752.2) scale(0.795,1)" font-size="15.2">V<tspan font-size="12.92" dy="3.5">CC</tspan><tspan dy="-3.5"> = 5V</tspan></text>
<text transform="translate(904,772.6) scale(0.8189,1)" font-size="15.2">V<tspan font-size="12.92" dy="3.5">BAT</tspan><tspan dy="-3.5"> = 3.8V</tspan></text>
<text transform="translate(857,873) rotate(-90) scale(0.8244,1)" font-size="15.2" text-anchor="middle">CURRENT (mA)</text>
<text transform="translate(1035.2,1049.6) scale(0.8069,1)" font-size="15.2" text-anchor="middle">TEMPERATURE (°C)</text>
<text transform="translate(1165,1061.5) scale(0.855,1)" font-size="8.6" text-anchor="end">4126-10 G06</text>
<line x1="186.13" y1="1160.2" x2="186.13" y2="1434.8" stroke="#262626" stroke-width="1"/>
<line x1="225.36" y1="1160.2" x2="225.36" y2="1434.8" stroke="#262626" stroke-width="1"/>
<line x1="264.59" y1="1160.2" x2="264.59" y2="1434.8" stroke="#262626" stroke-width="1"/>
<line x1="303.81" y1="1160.2" x2="303.81" y2="1434.8" stroke="#262626" stroke-width="1"/>
<line x1="343.04" y1="1160.2" x2="343.04" y2="1434.8" stroke="#262626" stroke-width="1"/>
<line x1="382.27" y1="1160.2" x2="382.27" y2="1434.8" stroke="#262626" stroke-width="1"/>
<line x1="146.5" y1="1194.53" x2="421.5" y2="1194.53" stroke="#262626" stroke-width="1"/>
<line x1="146.5" y1="1228.85" x2="421.5" y2="1228.85" stroke="#262626" stroke-width="1"/>
<line x1="146.5" y1="1263.17" x2="421.5" y2="1263.17" stroke="#262626" stroke-width="1"/>
<line x1="146.5" y1="1297.5" x2="421.5" y2="1297.5" stroke="#262626" stroke-width="1"/>
<line x1="146.5" y1="1331.83" x2="421.5" y2="1331.83" stroke="#262626" stroke-width="1"/>
<line x1="146.5" y1="1366.15" x2="421.5" y2="1366.15" stroke="#262626" stroke-width="1"/>
<line x1="146.5" y1="1400.47" x2="421.5" y2="1400.47" stroke="#262626" stroke-width="1"/>
<rect x="152.3" y="1370.7" width="107.3" height="37.5" fill="#fff"/>
<rect x="152.3" y="1407.2" width="176" height="21.8" fill="#fff"/>
<path d="M146.7 1279.8 C149.95 1276.85 159.5 1267.65 166.2 1262.1 C172.9 1256.55 180.23 1250.78 186.9 1246.5 C193.57 1242.22 199.77 1239.12 206.2 1236.4 C212.63 1233.68 219.32 1231.65 225.5 1230.2 C231.68 1228.75 236.77 1227.7 243.3 1227.7 C249.83 1227.7 257.88 1228.97 264.7 1230.2 C271.52 1231.43 277.75 1233.12 284.2 1235.1 C290.65 1237.08 296.93 1239.35 303.4 1242.1 C309.87 1244.85 316.42 1248.2 323 1251.6 C329.58 1255 336.32 1258.75 342.9 1262.5 C349.48 1266.25 355.97 1269.97 362.5 1274.1 C369.03 1278.23 375.52 1282.38 382.1 1287.3 C388.68 1292.22 395.47 1297.58 402 1303.6 C408.53 1309.62 418.08 1320.1 421.3 1323.4" fill="none" stroke="#8b0828" stroke-width="2.8" stroke-linejoin="round"/>
<line x1="145.9" y1="1160.2" x2="422.1" y2="1160.2" stroke="#262626" stroke-width="2.1"/>
<line x1="145.9" y1="1434.8" x2="422.1" y2="1434.8" stroke="#262626" stroke-width="1.2"/>
<line x1="146.5" y1="1160.2" x2="146.5" y2="1435.4" stroke="#262626" stroke-width="1.2"/>
<line x1="421.5" y1="1160.2" x2="421.5" y2="1435.4" stroke="#262626" stroke-width="1.2"/>
<text transform="translate(146.9,1452.9) scale(0.872,1)" font-size="14.9" text-anchor="middle">–20</text>
<text transform="translate(186.13,1452.9) scale(0.872,1)" font-size="14.9" text-anchor="middle">–5</text>
<text transform="translate(225.36,1452.9) scale(0.872,1)" font-size="14.9" text-anchor="middle">10</text>
<text transform="translate(264.59,1452.9) scale(0.872,1)" font-size="14.9" text-anchor="middle">25</text>
<text transform="translate(303.81,1452.9) scale(0.872,1)" font-size="14.9" text-anchor="middle">40</text>
<text transform="translate(343.04,1452.9) scale(0.872,1)" font-size="14.9" text-anchor="middle">55</text>
<text transform="translate(382.27,1452.9) scale(0.872,1)" font-size="14.9" text-anchor="middle">70</text>
<text transform="translate(421.5,1452.9) scale(0.872,1)" font-size="14.9" text-anchor="middle">85</text>
<text transform="translate(138.4,1439.9) scale(0.872,1)" font-size="14.9" text-anchor="end">270</text>
<text transform="translate(138.4,1405.57) scale(0.872,1)" font-size="14.9" text-anchor="end">275</text>
<text transform="translate(138.4,1371.25) scale(0.872,1)" font-size="14.9" text-anchor="end">280</text>
<text transform="translate(138.4,1336.92) scale(0.872,1)" font-size="14.9" text-anchor="end">285</text>
<text transform="translate(138.4,1302.6) scale(0.872,1)" font-size="14.9" text-anchor="end">290</text>
<text transform="translate(138.4,1268.27) scale(0.872,1)" font-size="14.9" text-anchor="end">295</text>
<text transform="translate(138.4,1233.95) scale(0.872,1)" font-size="14.9" text-anchor="end">300</text>
<text transform="translate(138.4,1199.62) scale(0.872,1)" font-size="14.9" text-anchor="end">305</text>
<text transform="translate(138.4,1165.3) scale(0.872,1)" font-size="14.9" text-anchor="end">310</text>
<text transform="translate(146.5,1143) scale(0.8148,1)" font-size="20.4" font-weight="bold" fill="#000">CHRG Pin Current vs Temperature</text>
<line x1="146.5" y1="1126.4" x2="192" y2="1126.4" stroke="#262626" stroke-width="1.4"/>
<text transform="translate(155.3,1384.9) scale(0.795,1)" font-size="15.2">V<tspan font-size="12.92" dy="3.5">CC</tspan><tspan dy="-3.5"> = 5V</tspan></text>
<text transform="translate(155.3,1404.7) scale(0.795,1)" font-size="15.2">CHARGING DONE</text>
<text transform="translate(155.3,1423.5) scale(0.8093,1)" font-size="15.2">CHRG PIN PULLED UP TO 5V</text>
<line x1="154.7" y1="1412.2" x2="189.8" y2="1412.2" stroke="#555" stroke-width="0.9"/>
<text transform="translate(108.9,1296.6) rotate(-90) scale(0.8189,1)" font-size="15.2" text-anchor="middle">CURRENT (µA)</text>
<text transform="translate(283.6,1473.4) scale(0.8045,1)" font-size="15.2" text-anchor="middle">TEMPERATURE (°C)</text>
<text transform="translate(415.7,1484.7) scale(0.855,1)" font-size="8.6" text-anchor="end">4126-10 G07</text>
<line x1="561.03" y1="1159.9" x2="561.03" y2="1434.8" stroke="#262626" stroke-width="1"/>
<line x1="600.26" y1="1159.9" x2="600.26" y2="1434.8" stroke="#262626" stroke-width="1"/>
<line x1="639.49" y1="1159.9" x2="639.49" y2="1434.8" stroke="#262626" stroke-width="1"/>
<line x1="678.71" y1="1159.9" x2="678.71" y2="1434.8" stroke="#262626" stroke-width="1"/>
<line x1="717.94" y1="1159.9" x2="717.94" y2="1434.8" stroke="#262626" stroke-width="1"/>
<line x1="757.17" y1="1159.9" x2="757.17" y2="1434.8" stroke="#262626" stroke-width="1"/>
<line x1="521.8" y1="1214.88" x2="796.4" y2="1214.88" stroke="#262626" stroke-width="1"/>
<line x1="521.8" y1="1269.86" x2="796.4" y2="1269.86" stroke="#262626" stroke-width="1"/>
<line x1="521.8" y1="1324.84" x2="796.4" y2="1324.84" stroke="#262626" stroke-width="1"/>
<line x1="521.8" y1="1379.82" x2="796.4" y2="1379.82" stroke="#262626" stroke-width="1"/>
<rect x="525.3" y="1161" width="71" height="37.5" fill="#fff"/>
<rect x="525.3" y="1198.3" width="88.5" height="20.4" fill="#fff"/>
<path d="M521.8 1268.76 L561.03 1259.96 L639.49 1250.89 L717.94 1247.32 L741.48 1245.67 L796.4 1247.59" fill="none" stroke="#8b0828" stroke-width="2.8" stroke-linejoin="round"/>
<line x1="521.2" y1="1159.9" x2="797" y2="1159.9" stroke="#262626" stroke-width="2.2"/>
<line x1="521.2" y1="1434.8" x2="797" y2="1434.8" stroke="#262626" stroke-width="1.2"/>
<line x1="521.8" y1="1159.9" x2="521.8" y2="1435.4" stroke="#262626" stroke-width="1.2"/>
<line x1="796.4" y1="1159.9" x2="796.4" y2="1435.4" stroke="#262626" stroke-width="1.2"/>
<text transform="translate(521.8,1452.9) scale(0.872,1)" font-size="14.9" text-anchor="middle">–20</text>
<text transform="translate(561.03,1452.9) scale(0.872,1)" font-size="14.9" text-anchor="middle">–5</text>
<text transform="translate(600.26,1452.9) scale(0.872,1)" font-size="14.9" text-anchor="middle">10</text>
<text transform="translate(639.49,1452.9) scale(0.872,1)" font-size="14.9" text-anchor="middle">25</text>
<text transform="translate(678.71,1452.9) scale(0.872,1)" font-size="14.9" text-anchor="middle">40</text>
<text transform="translate(717.94,1452.9) scale(0.872,1)" font-size="14.9" text-anchor="middle">55</text>
<text transform="translate(757.17,1452.9) scale(0.872,1)" font-size="14.9" text-anchor="middle">70</text>
<text transform="translate(796.4,1452.9) scale(0.872,1)" font-size="14.9" text-anchor="middle">85</text>
<text transform="translate(513.3,1439.9) scale(0.872,1)" font-size="14.9" text-anchor="end">44</text>
<text transform="translate(513.3,1384.92) scale(0.872,1)" font-size="14.9" text-anchor="end">46</text>
<text transform="translate(513.3,1329.94) scale(0.872,1)" font-size="14.9" text-anchor="end">48</text>
<text transform="translate(513.3,1274.96) scale(0.872,1)" font-size="14.9" text-anchor="end">50</text>
<text transform="translate(513.3,1219.98) scale(0.872,1)" font-size="14.9" text-anchor="end">52</text>
<text transform="translate(513.3,1165) scale(0.872,1)" font-size="14.9" text-anchor="end">54</text>
<text transform="translate(521.5,1120.4) scale(0.8048,1)" font-size="20.4" font-weight="bold" fill="#000">V<tspan font-size="15.91" dy="4.08">CC</tspan><tspan dy="-4.08"> Quiescent Current vs</tspan></text>
<text transform="translate(521.5,1143.1) scale(0.828,1)" font-size="20.4" font-weight="bold" fill="#000">Temperature</text>
<text transform="translate(527.8,1174.7) scale(0.795,1)" font-size="15.2">V<tspan font-size="12.92" dy="3.5">CC</tspan><tspan dy="-3.5"> = 5V</tspan></text>
<text transform="translate(527.8,1192.9) scale(0.795,1)" font-size="15.2">V<tspan font-size="12.92" dy="3.5">BAT</tspan><tspan dy="-3.5"> = 4.5V</tspan></text>
<text transform="translate(527.8,1212.4) scale(0.795,1)" font-size="15.2">NTC ENABLED</text>
<text transform="translate(492.4,1297.5) rotate(-90) scale(0.8348,1)" font-size="15.2" text-anchor="middle">I(V<tspan font-size="12.92" dy="3.5">CC</tspan><tspan dy="-3.5">) (µA)</tspan></text>
<text transform="translate(658.7,1473.4) scale(0.803,1)" font-size="15.2" text-anchor="middle">TEMPERATURE (°C)</text>
<text transform="translate(792,1484.7) scale(0.855,1)" font-size="8.6" text-anchor="end">4126-10 G08</text>
<clipPath id="k9"><rect x="880" y="1150" width="287.8" height="300"/></clipPath><g clip-path="url(#k9)">
<line x1="962.5" y1="1160.1" x2="962.5" y2="1434.7" stroke="#262626" stroke-width="1"/>
<line x1="1031" y1="1160.1" x2="1031" y2="1434.7" stroke="#262626" stroke-width="1"/>
<line x1="1099.5" y1="1160.1" x2="1099.5" y2="1434.7" stroke="#262626" stroke-width="1"/>
<line x1="893.4" y1="1215.02" x2="1168" y2="1215.02" stroke="#262626" stroke-width="1"/>
<line x1="893.4" y1="1269.94" x2="1168" y2="1269.94" stroke="#262626" stroke-width="1"/>
<line x1="893.4" y1="1324.86" x2="1168" y2="1324.86" stroke="#262626" stroke-width="1"/>
<line x1="893.4" y1="1379.78" x2="1168" y2="1379.78" stroke="#262626" stroke-width="1"/>
<rect x="895" y="1161.5" width="80" height="35.4" fill="#fff"/>
<path d="M893.4 1231.83 L894.2 1230.99 L895 1230.19 L895.8 1229.43 L896.6 1228.7 L897.4 1228.01 L898.2 1227.33 L899 1226.68 L899.8 1226.05 L900.6 1225.44 L901.4 1224.84 L902.2 1224.26 L903 1223.69 L903.8 1223.14 L904.6 1222.59 L905.4 1222.06 L906.2 1221.53 L907 1238.55 L907.8 1258.94 L908.6 1267.97 L909.4 1273.23 L910.2 1276.15 L911 1276.15 L911.8 1276.15 L912.6 1276.15 L913.4 1276.15 L914.2 1276.15 L915 1276.15 L915.8 1276.15 L916.6 1276.15 L917.4 1276.15 L918.2 1276.15 L919 1276.15 L919.8 1276.15 L920.6 1276.15 L921.4 1276.15 L922.2 1276.15 L923 1276.15 L923.8 1276.15 L924.6 1276.15 L925.4 1276.15 L926.2 1276.15 L927 1276.15 L927.8 1276.15 L928.6 1276.15 L929.4 1276.15 L930.2 1276.15 L931 1276.15 L931.8 1276.15 L932.6 1276.15 L933.4 1276.15 L934.2 1276.15 L935 1276.15 L935.8 1276.15 L936.6 1276.15 L937.4 1276.15 L938.2 1276.15 L939 1276.15 L939.8 1276.15 L940.6 1276.15 L941.4 1276.15 L942.2 1276.15 L943 1276.15 L943.8 1276.15 L944.6 1276.15 L945.4 1276.15 L946.2 1276.15 L947 1276.15 L947.8 1276.15 L948.6 1276.15 L949.4 1276.15 L950.2 1276.15 L951 1272.5 L951.8 1260.79 L952.6 1238.05 L953.4 1236.39 L954.2 1235.09 L955 1233.98 L955.8 1232.97 L956.6 1232.05 L957.4 1231.19 L958.2 1230.39 L959 1229.62 L959.8 1228.88 L960.6 1228.18 L961.4 1227.5 L962.2 1226.84 L963 1226.21 L963.8 1225.59 L964.6 1224.99 L965.4 1224.4 L966.2 1223.83 L967 1223.27 L967.8 1222.73 L968.6 1222.19 L969.4 1221.66 L970.2 1233.45 L971 1253.84 L971.8 1266.66 L972.6 1271.91 L973.4 1276.15 L974.2 1276.15 L975 1276.15 L975.8 1276.15 L976.6 1276.15 L977.4 1276.15 L978.2 1276.15 L979 1276.15 L979.8 1276.15 L980.6 1276.15 L981.4 1276.15 L982.2 1276.15 L983 1276.15 L983.8 1276.15 L984.6 1276.15 L985.4 1276.15 L986.2 1276.15 L987 1276.15 L987.8 1276.15 L988.6 1276.15 L989.4 1276.15 L990.2 1276.15 L991 1276.15 L991.8 1276.15 L992.6 1276.15 L993.4 1276.15 L994.2 1276.15 L995 1276.15 L995.8 1276.15 L996.6 1276.15 L997.4 1276.15 L998.2 1276.15 L999 1276.15 L999.8 1276.15 L1000.6 1276.15 L1001.4 1276.15 L1002.2 1276.15 L1003 1276.15 L1003.8 1276.15 L1004.6 1276.15 L1005.4 1276.15 L1006.2 1276.15 L1007 1276.15 L1007.8 1276.15 L1008.6 1276.15 L1009.4 1276.15 L1010.2 1276.15 L1011 1276.15 L1011.8 1276.15 L1012.6 1276.15 L1013.4 1276.15 L1014.2 1275.43 L1015 1263.72 L1015.8 1238.59 L1016.6 1236.76 L1017.4 1235.4 L1018.2 1234.24 L1019 1233.22 L1019.8 1232.28 L1020.6 1231.4 L1021.4 1230.58 L1022.2 1229.81 L1023 1229.06 L1023.8 1228.35 L1024.6 1227.67 L1025.4 1227.01 L1026.2 1226.37 L1027 1225.74 L1027.8 1225.14 L1028.6 1224.55 L1029.4 1223.97 L1030.2 1223.41 L1031 1222.86 L1031.8 1222.32 L1032.6 1221.79 L1033.4 1228.36 L1034.2 1248.74 L1035 1265.35 L1035.8 1270.6 L1036.6 1276.15 L1037.4 1276.15 L1038.2 1276.15 L1039 1276.15 L1039.8 1276.15 L1040.6 1276.15 L1041.4 1276.15 L1042.2 1276.15 L1043 1276.15 L1043.8 1276.15 L1044.6 1276.15 L1045.4 1276.15 L1046.2 1276.15 L1047 1276.15 L1047.8 1276.15 L1048.6 1276.15 L1049.4 1276.15 L1050.2 1276.15 L1051 1276.15 L1051.8 1276.15 L1052.6 1276.15 L1053.4 1276.15 L1054.2 1276.15 L1055 1276.15 L1055.8 1276.15 L1056.6 1276.15 L1057.4 1276.15 L1058.2 1276.15 L1059 1276.15 L1059.8 1276.15 L1060.6 1276.15 L1061.4 1276.15 L1062.2 1276.15 L1063 1276.15 L1063.8 1276.15 L1064.6 1276.15 L1065.4 1276.15 L1066.2 1276.15 L1067 1276.15 L1067.8 1276.15 L1068.6 1276.15 L1069.4 1276.15 L1070.2 1276.15 L1071 1276.15 L1071.8 1276.15 L1072.6 1276.15 L1073.4 1276.15 L1074.2 1276.15 L1075 1276.15 L1075.8 1276.15 L1076.6 1276.15 L1077.4 1276.15 L1078.2 1266.64 L1079 1239.26 L1079.8 1237.15 L1080.6 1235.71 L1081.4 1234.52 L1082.2 1233.46 L1083 1232.51 L1083.8 1231.62 L1084.6 1230.78 L1085.4 1230 L1086.2 1229.25 L1087 1228.53 L1087.8 1227.84 L1088.6 1227.17 L1089.4 1226.52 L1090.2 1225.9 L1091 1225.29 L1091.8 1224.7 L1092.6 1224.12 L1093.4 1223.55 L1094.2 1223 L1095 1222.46 L1095.8 1221.93 L1096.6 1221.4 L1097.4 1243.65 L1098.2 1264.04 L1099 1269.29 L1099.8 1274.54 L1100.6 1276.15 L1101.4 1276.15 L1102.2 1276.15 L1103 1276.15 L1103.8 1276.15 L1104.6 1276.15 L1105.4 1276.15 L1106.2 1276.15 L1107 1276.15 L1107.8 1276.15 L1108.6 1276.15 L1109.4 1276.15 L1110.2 1276.15 L1111 1276.15 L1111.8 1276.15 L1112.6 1276.15 L1113.4 1276.15 L1114.2 1276.15 L1115 1276.15 L1115.8 1276.15 L1116.6 1276.15 L1117.4 1276.15 L1118.2 1276.15 L1119 1276.15 L1119.8 1276.15 L1120.6 1276.15 L1121.4 1276.15 L1122.2 1276.15 L1123 1276.15 L1123.8 1276.15 L1124.6 1276.15 L1125.4 1276.15 L1126.2 1276.15 L1127 1276.15 L1127.8 1276.15 L1128.6 1276.15 L1129.4 1276.15 L1130.2 1276.15 L1131 1276.15 L1131.8 1276.15 L1132.6 1276.15 L1133.4 1276.15 L1134.2 1276.15 L1135 1276.15 L1135.8 1276.15 L1136.6 1276.15 L1137.4 1276.15 L1138.2 1276.15 L1139 1276.15 L1139.8 1276.15 L1140.6 1276.15 L1141.4 1276.15 L1142.2 1276.15 L1143 1276.15 L1143.8 1276.15 L1144.6 1273.97 L1145.4 1262.25 L1146.2 1238.31 L1147 1236.57 L1147.8 1235.24 L1148.6 1234.11 L1149.4 1233.09 L1150.2 1232.16 L1151 1231.3 L1151.8 1230.48 L1152.6 1229.71 L1153.4 1228.97 L1154.2 1228.27 L1155 1227.58 L1155.8 1226.92 L1156.6 1226.29 L1157.4 1225.67 L1158.2 1225.06 L1159 1224.48 L1159.8 1223.9 L1160.6 1223.34 L1161.4 1222.79 L1162.2 1222.26 L1163 1221.73 L1163.8 1230.9 L1164.6 1251.29 L1165.4 1266.01 L1166.2 1271.26 L1167 1276.15 L1167.8 1276.15 L1168.6 1276.15 L1168.6 1323.67 L1167.8 1323.67 L1167 1323.67 L1166.2 1323.67 L1165.4 1323.67 L1164.6 1340.9 L1163.8 1368.06 L1163 1378.67 L1162.2 1378.33 L1161.4 1377.98 L1160.6 1377.62 L1159.8 1377.24 L1159 1376.86 L1158.2 1376.46 L1157.4 1376.04 L1156.6 1375.61 L1155.8 1375.16 L1155 1374.69 L1154.2 1374.19 L1153.4 1373.66 L1152.6 1373.1 L1151.8 1372.49 L1151 1371.84 L1150.2 1371.12 L1149.4 1370.33 L1148.6 1369.42 L1147.8 1368.35 L1147 1366.99 L1146.2 1364.95 L1145.4 1351.86 L1144.6 1342.13 L1143.8 1332.39 L1143 1323.67 L1142.2 1323.67 L1141.4 1323.67 L1140.6 1323.67 L1139.8 1323.67 L1139 1323.67 L1138.2 1323.67 L1137.4 1323.67 L1136.6 1323.67 L1135.8 1323.67 L1135 1323.67 L1134.2 1323.67 L1133.4 1323.67 L1132.6 1323.67 L1131.8 1323.67 L1131 1323.67 L1130.2 1323.67 L1129.4 1323.67 L1128.6 1323.67 L1127.8 1323.67 L1127 1323.67 L1126.2 1323.67 L1125.4 1323.67 L1124.6 1323.67 L1123.8 1323.67 L1123 1323.67 L1122.2 1323.67 L1121.4 1323.67 L1120.6 1323.67 L1119.8 1323.67 L1119 1323.67 L1118.2 1323.67 L1117.4 1323.67 L1116.6 1323.67 L1115.8 1323.67 L1115 1323.67 L1114.2 1323.67 L1113.4 1323.67 L1112.6 1323.67 L1111.8 1323.67 L1111 1323.67 L1110.2 1323.67 L1109.4 1323.67 L1108.6 1323.67 L1107.8 1323.67 L1107 1323.67 L1106.2 1323.67 L1105.4 1323.67 L1104.6 1323.67 L1103.8 1323.67 L1103 1323.67 L1102.2 1323.67 L1101.4 1323.67 L1100.6 1323.67 L1099.8 1323.67 L1099 1323.67 L1098.2 1323.93 L1097.4 1351.08 L1096.6 1378.87 L1095.8 1378.54 L1095 1378.2 L1094.2 1377.84 L1093.4 1377.48 L1092.6 1377.1 L1091.8 1376.71 L1091 1376.31 L1090.2 1375.88 L1089.4 1375.44 L1088.6 1374.98 L1087.8 1374.5 L1087 1373.99 L1086.2 1373.45 L1085.4 1372.87 L1084.6 1372.25 L1083.8 1371.58 L1083 1370.84 L1082.2 1370 L1081.4 1369.04 L1080.6 1367.88 L1079.8 1366.35 L1079 1363.6 L1078.2 1348.21 L1077.4 1338.48 L1076.6 1328.75 L1075.8 1323.67 L1075 1323.67 L1074.2 1323.67 L1073.4 1323.67 L1072.6 1323.67 L1071.8 1323.67 L1071 1323.67 L1070.2 1323.67 L1069.4 1323.67 L1068.6 1323.67 L1067.8 1323.67 L1067 1323.67 L1066.2 1323.67 L1065.4 1323.67 L1064.6 1323.67 L1063.8 1323.67 L1063 1323.67 L1062.2 1323.67 L1061.4 1323.67 L1060.6 1323.67 L1059.8 1323.67 L1059 1323.67 L1058.2 1323.67 L1057.4 1323.67 L1056.6 1323.67 L1055.8 1323.67 L1055 1323.67 L1054.2 1323.67 L1053.4 1323.67 L1052.6 1323.67 L1051.8 1323.67 L1051 1323.67 L1050.2 1323.67 L1049.4 1323.67 L1048.6 1323.67 L1047.8 1323.67 L1047 1323.67 L1046.2 1323.67 L1045.4 1323.67 L1044.6 1323.67 L1043.8 1323.67 L1043 1323.67 L1042.2 1323.67 L1041.4 1323.67 L1040.6 1323.67 L1039.8 1323.67 L1039 1323.67 L1038.2 1323.67 L1037.4 1323.67 L1036.6 1323.67 L1035.8 1323.67 L1035 1323.67 L1034.2 1344.29 L1033.4 1371.45 L1032.6 1378.62 L1031.8 1378.28 L1031 1377.93 L1030.2 1377.57 L1029.4 1377.2 L1028.6 1376.81 L1027.8 1376.41 L1027 1375.99 L1026.2 1375.56 L1025.4 1375.1 L1024.6 1374.62 L1023.8 1374.12 L1023 1373.59 L1022.2 1373.02 L1021.4 1372.41 L1020.6 1371.75 L1019.8 1371.03 L1019 1370.22 L1018.2 1369.3 L1017.4 1368.2 L1016.6 1366.79 L1015.8 1364.57 L1015 1350.64 L1014.2 1340.91 L1013.4 1331.18 L1012.6 1323.67 L1011.8 1323.67 L1011 1323.67 L1010.2 1323.67 L1009.4 1323.67 L1008.6 1323.67 L1007.8 1323.67 L1007 1323.67 L1006.2 1323.67 L1005.4 1323.67 L1004.6 1323.67 L1003.8 1323.67 L1003 1323.67 L1002.2 1323.67 L1001.4 1323.67 L1000.6 1323.67 L999.8 1323.67 L999 1323.67 L998.2 1323.67 L997.4 1323.67 L996.6 1323.67 L995.8 1323.67 L995 1323.67 L994.2 1323.67 L993.4 1323.67 L992.6 1323.67 L991.8 1323.67 L991 1323.67 L990.2 1323.67 L989.4 1323.67 L988.6 1323.67 L987.8 1323.67 L987 1323.67 L986.2 1323.67 L985.4 1323.67 L984.6 1323.67 L983.8 1323.67 L983 1323.67 L982.2 1323.67 L981.4 1323.67 L980.6 1323.67 L979.8 1323.67 L979 1323.67 L978.2 1323.67 L977.4 1323.67 L976.6 1323.67 L975.8 1323.67 L975 1323.67 L974.2 1323.67 L973.4 1323.67 L972.6 1323.67 L971.8 1323.67 L971 1337.51 L970.2 1364.66 L969.4 1378.71 L968.6 1378.37 L967.8 1378.02 L967 1377.66 L966.2 1377.29 L965.4 1376.91 L964.6 1376.51 L963.8 1376.1 L963 1375.67 L962.2 1375.22 L961.4 1374.75 L960.6 1374.25 L959.8 1373.73 L959 1373.17 L958.2 1372.57 L957.4 1371.92 L956.6 1371.22 L955.8 1370.43 L955 1369.54 L954.2 1368.49 L953.4 1367.18 L952.6 1365.28 L951.8 1353.07 L951 1343.34 L950.2 1333.61 L949.4 1323.88 L948.6 1323.67 L947.8 1323.67 L947 1323.67 L946.2 1323.67 L945.4 1323.67 L944.6 1323.67 L943.8 1323.67 L943 1323.67 L942.2 1323.67 L941.4 1323.67 L940.6 1323.67 L939.8 1323.67 L939 1323.67 L938.2 1323.67 L937.4 1323.67 L936.6 1323.67 L935.8 1323.67 L935 1323.67 L934.2 1323.67 L933.4 1323.67 L932.6 1323.67 L931.8 1323.67 L931 1323.67 L930.2 1323.67 L929.4 1323.67 L928.6 1323.67 L927.8 1323.67 L927 1323.67 L926.2 1323.67 L925.4 1323.67 L924.6 1323.67 L923.8 1323.67 L923 1323.67 L922.2 1323.67 L921.4 1323.67 L920.6 1323.67 L919.8 1323.67 L919 1323.67 L918.2 1323.67 L917.4 1323.67 L916.6 1323.67 L915.8 1323.67 L915 1323.67 L914.2 1323.67 L913.4 1323.67 L912.6 1323.67 L911.8 1323.67 L911 1323.67 L910.2 1323.67 L909.4 1323.67 L908.6 1323.67 L907.8 1330.72 L907 1357.87 L906.2 1378.79 L905.4 1378.46 L904.6 1378.11 L903.8 1377.75 L903 1377.38 L902.2 1377 L901.4 1376.61 L900.6 1376.2 L899.8 1375.78 L899 1375.33 L898.2 1374.87 L897.4 1374.38 L896.6 1373.86 L895.8 1373.31 L895 1372.72 L894.2 1372.09 L893.4 1371.4 Z" fill="#3953a4"/>
<path d="M893.4 1226.15 L894.35 1376.36 L895.3 1222.56 L896.25 1377.55 L897.2 1221.15 L898.15 1380.16 L899.1 1221.5 L900.05 1381.95 L901 1219.97 L901.95 1382.68 L902.9 1218.29 L903.85 1382.14 L904.8 1215.29 L905.75 1386.28 L906.7 1225.99 L907.65 1337.11 L908.6 1264.97 L909.55 1327.1 L910.5 1274.27 L911.45 1324.68 L912.4 1272.52 L913.35 1323.14 L914.3 1273.03 L915.25 1324.21 L916.2 1276.17 L917.15 1323.46 L918.1 1275.45 L919.05 1326.52 L920 1276.01 L920.95 1325.49 L921.9 1274 L922.85 1324.57 L923.8 1274.4 L924.75 1323.21 L925.7 1276.54 L926.65 1323.84 L927.6 1273.82 L928.55 1324.82 L929.5 1275.42 L930.45 1325.51 L931.4 1274.81 L932.35 1324.25 L933.3 1273.31 L934.25 1326.01 L935.2 1275.73 L936.15 1325.46 L937.1 1274.5 L938.05 1326.78 L939 1273.6 L939.95 1324.2 L940.9 1272.5 L941.85 1323.46 L942.8 1274.97 L943.75 1326.26 L944.7 1276.14 L945.65 1325.09 L946.6 1276.63 L947.55 1325.87 L948.5 1273.45 L949.45 1326.34 L950.4 1272.96 L951.35 1350.32 L952.3 1232.37 L953.25 1372.52 L954.2 1228.64 L955.15 1374.99 L956.1 1224.75 L957.05 1379.21 L958 1224.1 L958.95 1379.61 L959.9 1223.92 L960.85 1381.17 L961.8 1219.54 L962.75 1383.66 L963.7 1217.11 L964.65 1381.65 L965.6 1217.46 L966.55 1384.33 L967.5 1217.58 L968.45 1384.35 L969.4 1215.53 L970.35 1362.47 L971.3 1260.26 L972.25 1326.31 L973.2 1276.24 L974.15 1324.03 L975.1 1275.09 L976.05 1326.77 L977 1276.45 L977.95 1324.91 L978.9 1274.39 L979.85 1326.82 L980.8 1273.21 L981.75 1326.73 L982.7 1275.58 L983.65 1324.76 L984.6 1275.23 L985.55 1326.82 L986.5 1272.6 L987.45 1323.6 L988.4 1276.03 L989.35 1323.96 L990.3 1275.78 L991.25 1325.07 L992.2 1274.22 L993.15 1324.09 L994.1 1276.79 L995.05 1324.78 L996 1275.18 L996.95 1325.43 L997.9 1272.62 L998.85 1325.97 L999.8 1274.54 L1000.75 1325.65 L1001.7 1273.83 L1002.65 1323.18 L1003.6 1272.85 L1004.55 1326.36 L1005.5 1272.96 L1006.45 1326.44 L1007.4 1275.08 L1008.35 1324.69 L1009.3 1276.35 L1010.25 1325.72 L1011.2 1276.53 L1012.15 1323.23 L1013.1 1275.89 L1014.05 1340.4 L1015 1261.5 L1015.95 1368.22 L1016.9 1232.44 L1017.85 1372.7 L1018.8 1228.93 L1019.75 1375.96 L1020.7 1226.86 L1021.65 1379.97 L1022.6 1222.2 L1023.55 1378.25 L1024.5 1221.93 L1025.45 1380.4 L1026.4 1219.72 L1027.35 1380.54 L1028.3 1215.99 L1029.25 1385.4 L1030.2 1216.16 L1031.15 1384.11 L1032.1 1216.4 L1033.05 1383.32 L1034 1239.19 L1034.95 1324.1 L1035.9 1267.73 L1036.85 1323.65 L1037.8 1276.7 L1038.75 1327.12 L1039.7 1274.48 L1040.65 1323.58 L1041.6 1274.42 L1042.55 1323.06 L1043.5 1274.48 L1044.45 1327.24 L1045.4 1273.01 L1046.35 1326 L1047.3 1275.66 L1048.25 1324.55 L1049.2 1276.07 L1050.15 1326.33 L1051.1 1274.47 L1052.05 1326.36 L1053 1275.36 L1053.95 1323.92 L1054.9 1273.24 L1055.85 1327.27 L1056.8 1273.06 L1057.75 1326.48 L1058.7 1273.21 L1059.65 1326.19 L1060.6 1275.81 L1061.55 1325.21 L1062.5 1275.24 L1063.45 1323.07 L1064.4 1276.68 L1065.35 1324.17 L1066.3 1275.67 L1067.25 1325.98 L1068.2 1272.6 L1069.15 1324.9 L1070.1 1272.69 L1071.05 1327.28 L1072 1272.61 L1072.95 1324.54 L1073.9 1275.84 L1074.85 1323.93 L1075.8 1275.94 L1076.75 1331.33 L1077.7 1271.64 L1078.65 1359.51 L1079.6 1230.26 L1080.55 1373.01 L1081.5 1227.53 L1082.45 1377.11 L1083.4 1227.44 L1084.35 1378.42 L1085.3 1221.64 L1086.25 1380.52 L1087.2 1220.4 L1088.15 1380.52 L1089.1 1221.15 L1090.05 1383.07 L1091 1218.84 L1091.95 1384.19 L1092.9 1214.49 L1093.85 1383.38 L1094.8 1215.54 L1095.75 1386.71 L1096.7 1217.69 L1097.65 1344.25 L1098.6 1265.71 L1099.55 1323.6 L1100.5 1272.83 L1101.45 1326.48 L1102.4 1276.16 L1103.35 1326.57 L1104.3 1272.5 L1105.25 1325.83 L1106.2 1275.27 L1107.15 1325.35 L1108.1 1276.23 L1109.05 1323 L1110 1272.54 L1110.95 1325.79 L1111.9 1274.49 L1112.85 1327.04 L1113.8 1274.9 L1114.75 1326.77 L1115.7 1273.18 L1116.65 1323.87 L1117.6 1275.7 L1118.55 1324.22 L1119.5 1275.75 L1120.45 1325.51 L1121.4 1275.67 L1122.35 1324.78 L1123.3 1276.23 L1124.25 1326.94 L1125.2 1275.25 L1126.15 1324.95 L1127.1 1274.24 L1128.05 1326.91 L1129 1274.96 L1129.95 1326.97 L1130.9 1274.6 L1131.85 1325.27 L1132.8 1274.5 L1133.75 1323.02 L1134.7 1274.87 L1135.65 1323.74 L1136.6 1276.79 L1137.55 1326.45 L1138.5 1276.05 L1139.45 1325.02 L1140.4 1273.62 L1141.35 1325.38 L1142.3 1275.37 L1143.25 1327.42 L1144.2 1274.36 L1145.15 1353.71 L1146.1 1234.61 L1147.05 1372.59 L1148 1229.94 L1148.95 1374.33 L1149.9 1224.92 L1150.85 1377.38 L1151.8 1223.6 L1152.75 1380.11 L1153.7 1220.08 L1154.65 1380.1 L1155.6 1219.6 L1156.55 1381.58 L1157.5 1218.38 L1158.45 1383.49 L1159.4 1217.09 L1160.35 1383.79 L1161.3 1215.5 L1162.25 1386.5 L1163.2 1213.12 L1164.15 1362.12 L1165.1 1259.21 L1166.05 1324.08 L1167 1274.35 L1167.95 1327.08 L1168.9 1273.11" fill="none" stroke="#3953a4" stroke-width="1.3" stroke-linejoin="round" stroke-linejoin="miter"/>
<path d="M893.4 1230.61 L894.5 1230.11 L895.6 1229.15 L896.7 1229.14 L897.8 1228.39 L898.9 1228.1 L900 1226.76 L901.1 1226.08 L902.2 1225.41 L903.3 1225.91 L904.4 1224.62 L905.5 1224.17 L906.6 1224.36 L907.7 1222.83 L908.8 1222.78 L909.9 1224.02 L911 1223.22 L912.1 1224.19 L913.2 1224.27 L914.3 1223.79 L915.4 1224.21 L916.5 1225.34 L917.6 1225.17 L918.7 1225.26 L919.8 1225.71 L920.9 1226.11 L922 1226.15 L923.1 1225.8 L924.2 1226.97 L925.3 1226.45 L926.4 1226.81 L927.5 1227.59 L928.6 1227.37 L929.7 1227.18 L930.8 1227.53 L931.9 1228.36 L933 1227.3 L934.1 1227.77 L935.2 1227.73 L936.3 1229.13 L937.4 1229.11 L938.5 1229.63 L939.6 1228.82 L940.7 1229.72 L941.8 1230.12 L942.9 1229.93 L944 1229.46 L945.1 1229.8 L946.2 1230.77 L947.3 1231.13 L948.4 1230.28 L949.5 1230.96 L950.6 1230.99 L951.7 1232.03 L952.8 1232.28 L953.9 1231.23 L955 1231.07 L956.1 1231.03 L957.2 1229.32 L958.3 1229.22 L959.4 1228.47 L960.5 1228.94 L961.6 1227.36 L962.7 1227.92 L963.8 1226.31 L964.9 1226.35 L966 1225.99 L967.1 1225.17 L968.2 1224.14 L969.3 1224.52 L970.4 1224.19 L971.5 1223.26 L972.6 1223.86 L973.7 1224.24 L974.8 1224.38 L975.9 1224.74 L977 1224.74 L978.1 1224.79 L979.2 1225.01 L980.3 1224.59 L981.4 1225.44 L982.5 1225.36 L983.6 1226.01 L984.7 1225.98 L985.8 1226.64 L986.9 1226.53 L988 1227.05 L989.1 1226.28 L990.2 1226.73 L991.3 1227.43 L992.4 1227.25 L993.5 1226.82 L994.6 1228.17 L995.7 1227.4 L996.8 1228.13 L997.9 1228.25 L999 1227.99 L1000.1 1228.8 L1001.2 1228.86 L1002.3 1228.81 L1003.4 1228.61 L1004.5 1229.7 L1005.6 1229.23 L1006.7 1229.61 L1007.8 1229.92 L1008.9 1230.44 L1010 1230.72 L1011.1 1231.33 L1012.2 1231.44 L1013.3 1231.72 L1014.4 1231.01 L1015.5 1231.88 L1016.6 1232.21 L1017.7 1231.87 L1018.8 1230.31 L1019.9 1229.75 L1021 1229.5 L1022.1 1229.52 L1023.2 1229.05 L1024.3 1228.46 L1025.4 1227.71 L1026.5 1227.61 L1027.6 1226.69 L1028.7 1226.42 L1029.8 1224.94 L1030.9 1224.41 L1032 1224.47 L1033.1 1224.37 L1034.2 1222.86 L1035.3 1223.63 L1036.4 1223.77 L1037.5 1224.47 L1038.6 1224.15 L1039.7 1224.23 L1040.8 1224.4 L1041.9 1225.02 L1043 1224.81 L1044.1 1225.7 L1045.2 1225.55 L1046.3 1226 L1047.4 1225.78 L1048.5 1226.47 L1049.6 1226.71 L1050.7 1226.53 L1051.8 1226.83 L1052.9 1226.55 L1054 1226.84 L1055.1 1226.74 L1056.2 1227.07 L1057.3 1227.2 L1058.4 1227.18 L1059.5 1228.06 L1060.6 1228.35 L1061.7 1227.66 L1062.8 1229.01 L1063.9 1228.43 L1065 1228.74 L1066.1 1229.77 L1067.2 1228.89 L1068.3 1229.02 L1069.4 1229.59 L1070.5 1229.65 L1071.6 1229.75 L1072.7 1230.88 L1073.8 1230.56 L1074.9 1230.79 L1076 1230.54 L1077.1 1230.79 L1078.2 1230.97 L1079.3 1231.51 L1080.4 1231.09 L1081.5 1230.86 L1082.6 1230.32 L1083.7 1230.44 L1084.8 1230.19 L1085.9 1229.53 L1087 1228.7 L1088.1 1228.53 L1089.2 1227.01 L1090.3 1226.87 L1091.4 1226.25 L1092.5 1225.73 L1093.6 1225.14 L1094.7 1224.88 L1095.8 1225.03 L1096.9 1223.42 L1098 1222.96 L1099.1 1223.44 L1100.2 1223.6 L1101.3 1223.64 L1102.4 1224.66 L1103.5 1223.95 L1104.6 1224.82 L1105.7 1225.27 L1106.8 1225.21 L1107.9 1224.78 L1109 1225.71 L1110.1 1225.18 L1111.2 1225.06 L1112.3 1225.93 L1113.4 1226.29 L1114.5 1226.36 L1115.6 1226.29 L1116.7 1226.38 L1117.8 1226.79 L1118.9 1226.96 L1120 1227.94 L1121.1 1228.05 L1122.2 1228.11 L1123.3 1227.65 L1124.4 1228.46 L1125.5 1228.3 L1126.6 1229.27 L1127.7 1229.41 L1128.8 1229.33 L1129.9 1228.98 L1131 1229.16 L1132.1 1229.39 L1133.2 1230.13 L1134.3 1230.02 L1135.4 1230.3 L1136.5 1230.5 L1137.6 1231.19 L1138.7 1230.33 L1139.8 1231.49 L1140.9 1230.63 L1142 1230.89 L1143.1 1232.36 L1144.2 1231.96 L1145.3 1231.67 L1146.4 1231.67 L1147.5 1231.6 L1148.6 1231.33 L1149.7 1230.89 L1150.8 1229.36 L1151.9 1229.85 L1153 1228.82 L1154.1 1228.9 L1155.2 1227.86 L1156.3 1226.75 L1157.4 1227.36 L1158.5 1225.89 L1159.6 1225.8 L1160.7 1224.76 L1161.8 1224.49 L1162.9 1224.62 L1164 1223.18 L1165.1 1223.3 L1166.2 1224.14 L1167.3 1224.37 L1168.4 1223.91" fill="none" stroke="#8b0828" stroke-width="2.7" stroke-linejoin="round"/>
<line x1="892.8" y1="1160.1" x2="1168" y2="1160.1" stroke="#262626" stroke-width="2.2"/>
<line x1="892.8" y1="1434.7" x2="1168" y2="1434.7" stroke="#262626" stroke-width="1.2"/>
<line x1="893.4" y1="1160.1" x2="893.4" y2="1435.3" stroke="#262626" stroke-width="1.2"/>
</g>
<text transform="translate(885.6,1439.8) scale(0.872,1)" font-size="14.9" text-anchor="end">–10</text>
<text transform="translate(885.6,1384.88) scale(0.872,1)" font-size="14.9" text-anchor="end">–6</text>
<text transform="translate(885.6,1329.96) scale(0.872,1)" font-size="14.9" text-anchor="end">–2</text>
<text transform="translate(885.6,1275.04) scale(0.872,1)" font-size="14.9" text-anchor="end">2</text>
<text transform="translate(885.6,1220.12) scale(0.872,1)" font-size="14.9" text-anchor="end">6</text>
<text transform="translate(885.6,1165.2) scale(0.872,1)" font-size="14.9" text-anchor="end">10</text>
<text transform="translate(892.8,1120.4) scale(0.8181,1)" font-size="20.4" font-weight="bold" fill="#000">ACIN and V<tspan font-size="15.91" dy="4.08">CC</tspan><tspan dy="-4.08"> Waveform when</tspan></text>
<text transform="translate(892.8,1142.9) scale(0.8065,1)" font-size="20.4" font-weight="bold" fill="#000">Shunt Active</text>
<line x1="900.6" y1="1169" x2="931.4" y2="1169" stroke="#8b0828" stroke-width="2.3"/>
<text transform="translate(939.8,1174.7) scale(0.795,1)" font-size="15.2">V<tspan font-size="12.92" dy="3.5">CC</tspan></text>
<line x1="900.6" y1="1185.5" x2="931.4" y2="1185.5" stroke="#3953a4" stroke-width="3.2"/>
<text transform="translate(939.8,1191) scale(0.795,1)" font-size="15.2">ACIN</text>
<text transform="translate(857,1296.4) rotate(-90) scale(0.8189,1)" font-size="15.2" text-anchor="middle">VOLTAGE (V)</text>
<text transform="translate(1030.9,1456.4) scale(0.8451,1)" font-size="15.2" text-anchor="middle">TIME (100µs/DIV)</text>
<text transform="translate(1160.4,1467.4) scale(0.855,1)" font-size="8.6" text-anchor="end">4126-10 G09</text>
</svg>
</body></html>
